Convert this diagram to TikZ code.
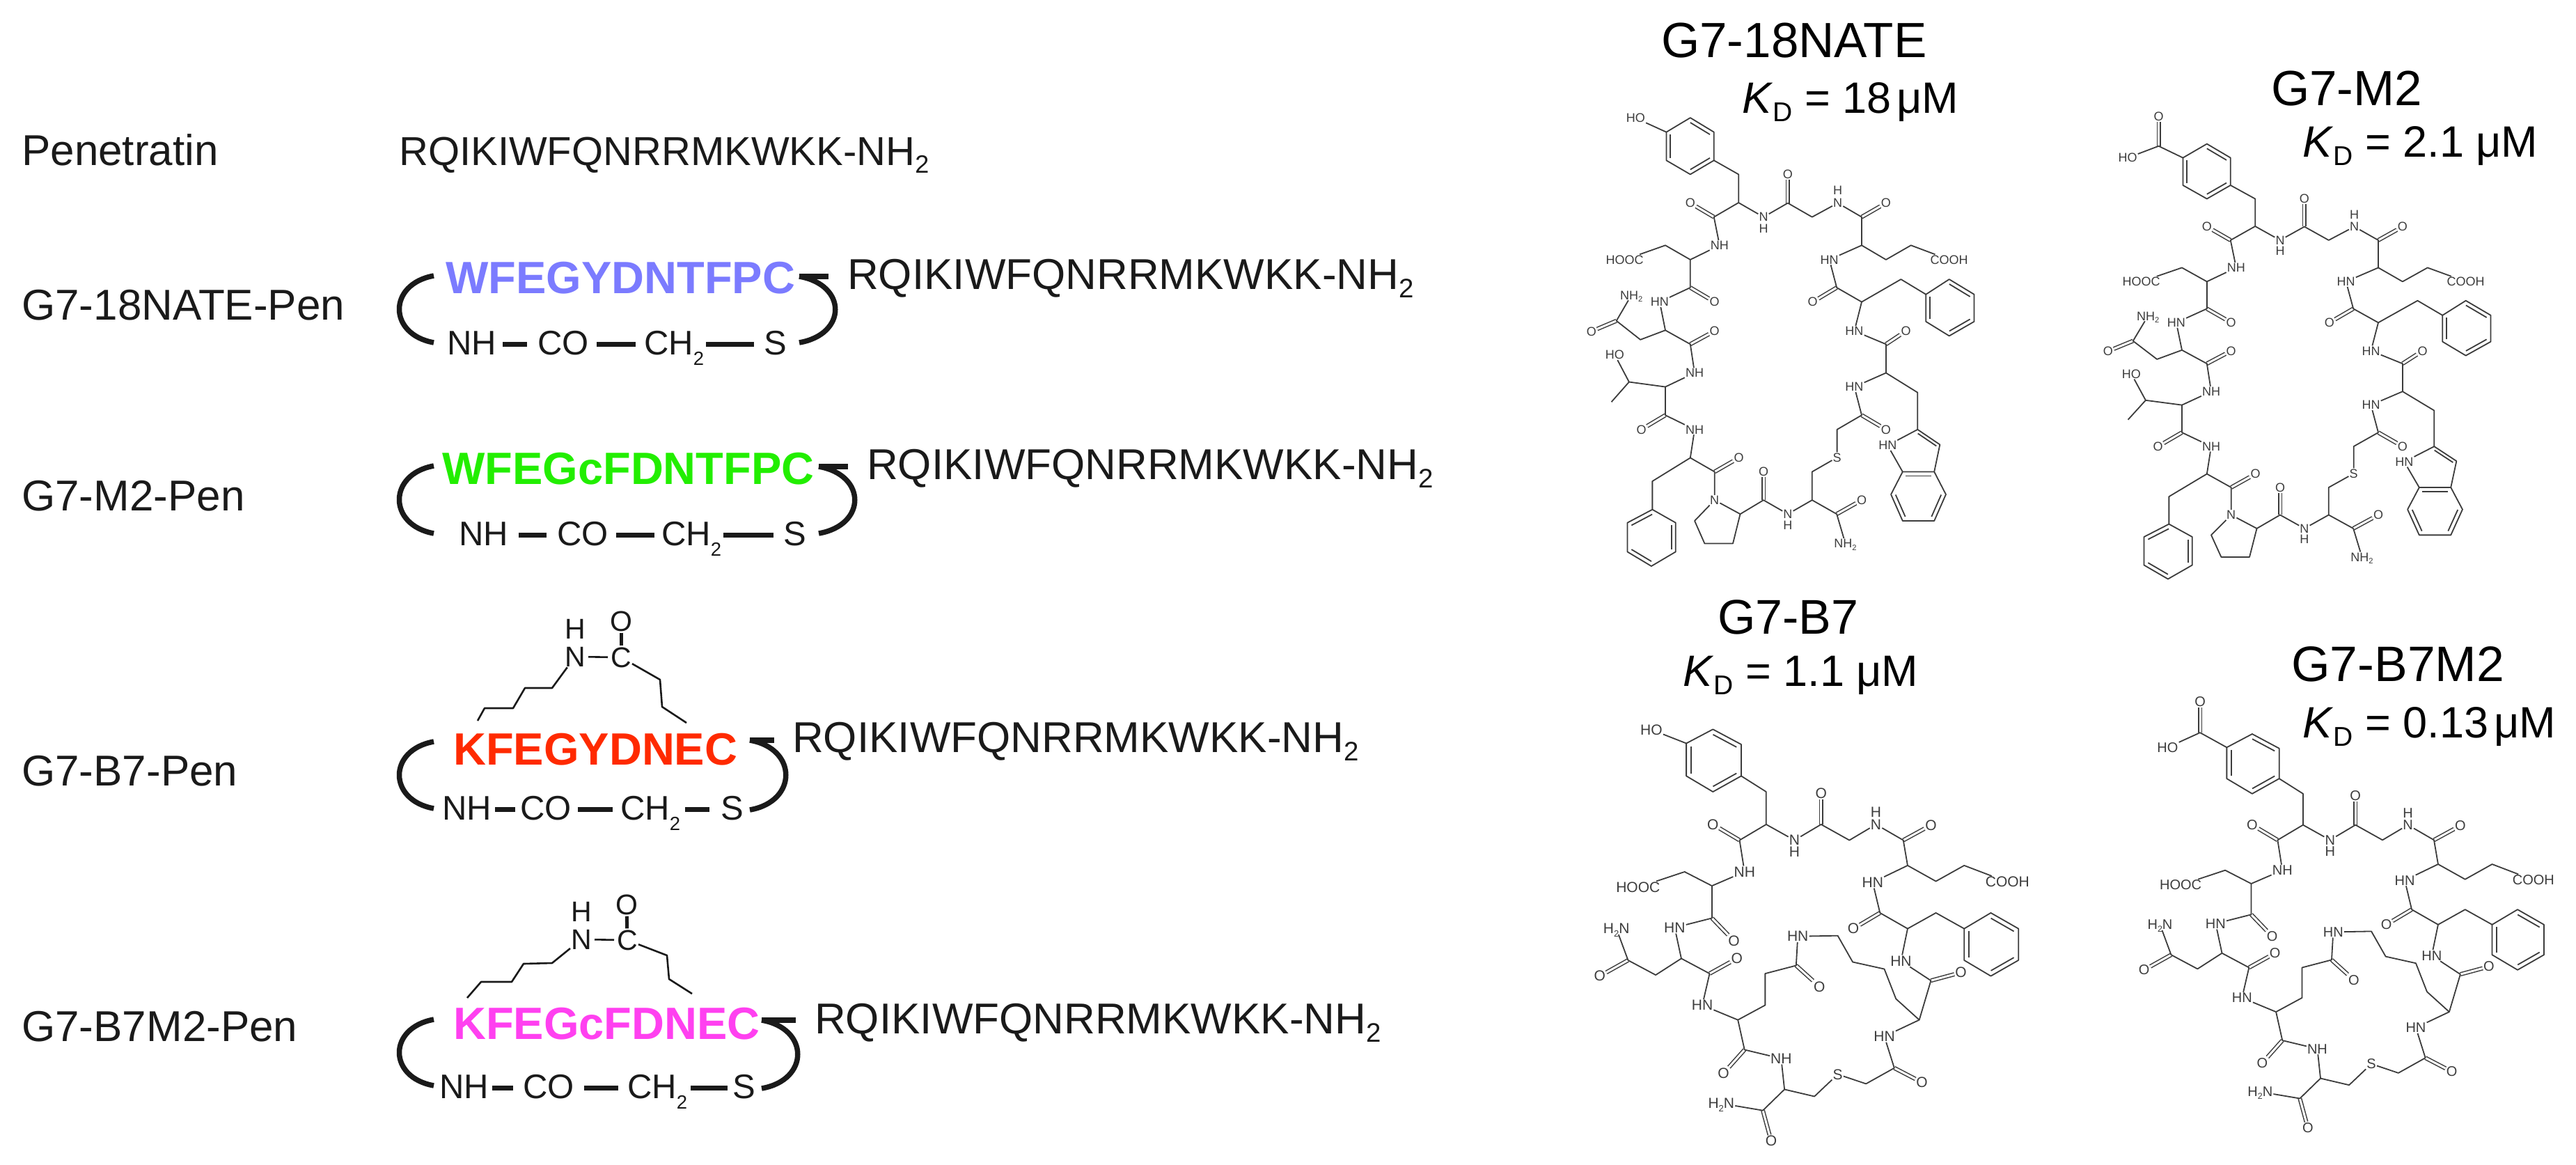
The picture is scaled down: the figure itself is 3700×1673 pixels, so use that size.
\documentclass[tikz,border=0pt]{standalone}
\usepackage{fontspec}
\setmainfont{Liberation Sans}
\usetikzlibrary{calc}
\definecolor{ink}{HTML}{1A1A1A}
\definecolor{bondgray}{HTML}{3C3C3C}
\definecolor{seqblue}{HTML}{7B7BFF}
\definecolor{seqgreen}{HTML}{22EE00}
\definecolor{seqred}{HTML}{FF2A00}
\definecolor{seqpink}{HTML}{FF40F0}
\newcommand\fs[1]{\fontsize{#1}{#1}\selectfont}
\newcommand\lowsub[1]{\raisebox{-.2em}[0pt][0pt]{\scalebox{.62}{#1}}}
\newcommand\chsub[1]{\raisebox{-.31em}[0pt][0pt]{\scalebox{.56}{#1}}}
\def\atomfs{18}
\tikzset{
  x=1pt,y=-1pt,
  lab/.style={anchor=base west,inner sep=0pt,text=ink,font=\fs{62}},
  seqtxt/.style={anchor=base west,inner sep=0pt,text=ink,font=\fs{62}},
  boldseq/.style={anchor=base west,inner sep=0pt,font=\fs{65}\bfseries},
  linkatom/.style={anchor=base west,inner sep=0pt,text=ink,font=\fs{49},text height=35pt,text depth=6pt},
  link/.style={line width=7pt,draw=ink},
  brack/.style={line width=7.5pt,draw=ink},
  topbar/.style={line width=8pt,draw=ink},
  chainl/.style={line width=2.6pt,draw=ink,line join=round},
  chainatom/.style={inner sep=1pt,text=ink,font=\fs{41}},
  title/.style={anchor=base west,inner sep=0pt,text=black,font=\fs{71}},
  kd/.style={anchor=base west,inner sep=0pt,text=black,font=\fs{63}},
  bond/.style={line width=1.8pt,draw=bondgray,line join=round},
  dbond/.style={draw=bondgray,line width=1.5pt,double=white,double distance=3pt},
  atom/.style={inner sep=1pt,text=bondgray,font=\fs{\atomfs}},
}
\newcommand\inring[3]{\draw[bond] ($(#1)!.17!(#3)$) -- ($(#2)!.17!(#3)$);}
\newcommand\dbl[2]{\draw[dbond] (#1) -- (#2);}

\newcommand\molA{%
  \foreach \n/\px/\py in {a1/300/350,a2/372/312,a3/443/350,a4/443/425,a5/372/462,a6/300/425,ac/372/387,
    t1/517/462,ca1/517/537,c1/443/575,ca2/372/688,e1/297/650,c2/372/762,ca3/297/875,e2/222/900,c3/150/850,
    c4/372/912,ca4/297/1025,e3/188/1012,e4/135/1065,c5/297/1100,ca5/372/1213,e5/258/1275,
    b1/258/1350,b2/328/1385,b3/328/1462,b4/255/1500,b5/183/1462,b6/183/1385,bc/255/1425,
    c6/445/1250,p1/385/1380,p2/415/1440,p3/500/1440,ca6/522/1362,c7/592/1325,ca7/738/1325,ct/812/1362,
    e6/738/1250,e7/813/1138,c8/887/1100,ca8/960/988,e8/1055/1040,i2/1055/1138,i3/1122/1178,i3a/1105/1250,
    i7a/1010/1250,i4/1140/1310,i5/1105/1380,i6/1010/1380,i7/975/1310,ic/1057/1315,fc/1060/1200,
    c9/960/912,ca9/887/800,c10/812/762,e9/1005/740,
    d1/1080/780,d2/1150/740,d3/1225/780,d4/1225/852,d5/1150/890,d6/1080/852,dc/1152/815,
    ca10/887/650,e10/960/688,e11/1035/650,c11/887/575,e12/738/575,c12/665/538}
    {\coordinate (\n) at (\px,\py);}
  \foreach \n/\px/\py/\lbl in {oa/372/538/O,na/460/650/NH,hooc/175/688/HOOC,ob/445/800/O,nb/280/800/HN,oc/75/878/O,
    nh2/195/782/NH\lowsub{2},od/445/877/O,nd/385/988/NH,hoa/145/940/HO,oe/225/1138/O,ne/385/1138/NH,of/518/1213/O,
    np/445/1325/N,og/592/1250/O,nf/665/1362/N,hf/665/1392/H,oh/887/1325/O,nt/838/1440/NH\lowsub{2},sa/813/1212/S,
    oi/960/1138/O,ni/865/1025/HN,nin/965/1180/HN,oj/1020/877/O,nj/865/877/HN,ok/740/800/O,nk/790/688/HN,
    cooh/1150/688/COOH,ol/960/538/O,nl/815/538/N,hl/815/505/H,om/665/462/O,nm/592/575/N,hm/592/605/H}
    {\node[atom] (\n) at (\px,\py) {\lbl};}
  \foreach \pa/\pb in {c1/oa,c2/ob,c3/oc,c4/od,c5/oe,c6/of,c7/og,ct/oh,c8/oi,c9/oj,c10/ok,c11/ol,c12/om}
    {\dbl{\pa}{\pb}}
  \draw[bond] (a1)--(a2)--(a3)--(a4)--(a5)--(a6)--cycle;
  \inring{a2}{a3}{ac}\inring{a4}{a5}{ac}\inring{a6}{a1}{ac}
  \draw[bond] (a4)--(t1)--(ca1)--(c1)--(na)--(ca2)--(e1)--(hooc);
  \draw[bond] (ca2)--(c2)--(nb)--(ca3)--(e2)--(c3)--(nh2);
  \draw[bond] (ca3)--(c4)--(nd)--(ca4)--(c5)--(ne)--(ca5)--(e5)--(b1);
  \draw[bond] (ca4)--(e3)--(hoa);
  \draw[bond] (e3)--(e4);
  \draw[bond] (b1)--(b2)--(b3)--(b4)--(b5)--(b6)--cycle;
  \inring{b6}{b1}{bc}\inring{b2}{b3}{bc}\inring{b4}{b5}{bc}
  \draw[bond] (ca5)--(c6)--(np)--(p1)--(p2)--(p3)--(ca6)--(np);
  \draw[bond] (ca6)--(c7)--(nf)--(ca7)--(ct)--(nt);
  \draw[bond] (ca7)--(e6)--(sa)--(e7)--(c8)--(ni)--(ca8)--(e8)--(i2);
  \draw[bond] (i2)--(i3)--(i3a)--(i7a)--(nin)--(i2);
  \draw[bond] (i3a)--(i4)--(i5)--(i6)--(i7)--(i7a);
  \inring{i2}{i3}{fc}\inring{i3a}{i7a}{ic}\inring{i4}{i5}{ic}\inring{i6}{i7}{ic}
  \draw[bond] (ca8)--(c9)--(nj)--(ca9)--(c10)--(nk)--(ca10)--(c11)--(nl)--(e12)--(c12)--(nm)--(ca1);
  \draw[bond] (ca9)--(e9)--(d1);
  \draw[bond] (d1)--(d2)--(d3)--(d4)--(d5)--(d6)--cycle;
  \inring{d2}{d3}{dc}\inring{d4}{d5}{dc}\inring{d6}{d1}{dc}
  \draw[bond] (ca10)--(e10)--(e11)--(cooh);
}
\newcommand\molB{%
  \foreach \n/\px/\py in {a1/360/372,a2/440/332,a3/525/375,a4/525/465,a5/440/510,a6/360/465,ac/442/420,
    t1/600/510,ca1/600/603,c1/520/648,ca2/437/778,e1/355/738,c2/437/870,ca3/345/985,e2/268/1032,c3/185/990,
    c4/430/1028,ca4/515/1160,e3/597/1118,e4/597/1028,c5/690/1005,e5/815/920,e6/860/995,e7/955/1015,e8/990/1100,
    ca5/1060/1160,c6/1095/1048,ca6/1025/900,e9/1110/855,
    d1/1195/900,d2/1275/855,d3/1358/900,d4/1358/990,d5/1275/1035,d6/1195/990,dc/1277/945,
    c7/942/855,ca7/1025/720,e10/1110/765,e11/1195/720,c8/1012/648,e12/850/648,c9/765/603,
    c10/985/1297,e13/900/1342,e14/745/1378,ca8/655/1358,c11/535/1245,c12/590/1418}
    {\coordinate (\n) at (\px,\py);}
  \foreach \n/\px/\py/\lbl in {oa/440/603/O,na/535/738/NH,hooc/215/782/HOOC,ob/503/935/O,nb/325/897/HN,oc/100/1035/O,
    nh2/150/900/H\lowsub{2}N,od/512/985/O,nd/408/1118/HN,oe/760/1065/O,ne/695/922/HN,of/1185/1025/O,nf/1005/992/HN,
    og/862/900/O,ng/920/768/HN,cooh/1325/767/COOH,oh/1095/605/O,nh/930/603/N,hh/930/568/H,oi/765/515/O,ni/685/648/N,
    hi/685/682/H,nj/955/1207/HN,oj/1068/1338/O,sa/815/1315/S,nk/645/1270/NH,ok/472/1312/O,ol/615/1505/O,nt/465/1398/H\lowsub{2}N}
    {\node[atom] (\n) at (\px,\py) {\lbl};}
  \foreach \pa/\pb in {c1/oa,c2/ob,c3/oc,c4/od,c5/oe,c6/of,c7/og,c8/oh,c9/oi,c10/oj,c11/ok,c12/ol}
    {\dbl{\pa}{\pb}}
  \draw[bond] (a1)--(a2)--(a3)--(a4)--(a5)--(a6)--cycle;
  \inring{a2}{a3}{ac}\inring{a4}{a5}{ac}\inring{a6}{a1}{ac}
  \draw[bond] (a4)--(t1)--(ca1)--(c1)--(na)--(ca2)--(e1)--(hooc);
  \draw[bond] (ca2)--(c2)--(nb)--(ca3)--(e2)--(c3)--(nh2);
  \draw[bond] (ca3)--(c4)--(nd)--(ca4)--(e3)--(e4)--(c5)--(ne)--(e5)--(e6)--(e7)--(e8)--(ca5)--(c6)--(nf)--(ca6)--(e9)--(d1);
  \draw[bond] (d1)--(d2)--(d3)--(d4)--(d5)--(d6)--cycle;
  \inring{d2}{d3}{dc}\inring{d4}{d5}{dc}\inring{d6}{d1}{dc}
  \draw[bond] (ca6)--(c7)--(ng)--(ca7)--(e10)--(e11)--(cooh);
  \draw[bond] (ca7)--(c8)--(nh)--(e12)--(c9)--(ni)--(ca1);
  \draw[bond] (ca5)--(nj)--(c10)--(e13)--(sa)--(e14)--(ca8)--(nk)--(c11)--(ca4);
  \draw[bond] (ca8)--(c12)--(nt);
}
\newcommand\kdval[1]{\textit{K}\lowsub{D} = #1}
\newcommand\seqstr{RQIKIWFQNRRMKWKK-NH\lowsub{2}}

\begin{document}
\begin{tikzpicture}
\useasboundingbox (0,0) rectangle (3700,1673);
% labels
\node[lab] (lab0) at (31,237) {Penetratin};
\node[lab] (lab1) at (31,459) {G7-18NATE-Pen};
\node[lab] (lab2) at (31,733) {G7-M2-Pen};
\node[lab] (lab3) at (31,1128) {G7-B7-Pen};
\node[lab] (lab4) at (31,1495) {G7-B7M2-Pen};
\node[seqtxt,font=\fs{58}] (seq0) at (573,237) {\seqstr};
\node[seqtxt] (seq1) at (1217,415) {\seqstr};
\node[seqtxt] (seq2) at (1245,688) {\seqstr};
\node[seqtxt] (seq3) at (1138,1080) {\seqstr};
\node[seqtxt] (seq4) at (1170,1484) {\seqstr};
\node[boldseq,text=seqblue] (b1) at (640,421) {WFEGYDNTFPC};
\node[boldseq,text=seqgreen] (b2) at (635,695) {WFEGcFDNTFPC};
\node[boldseq,text=seqred] (b3) at (651,1098) {KFEGYDNEC};
\node[boldseq,text=seqpink] (b4) at (651,1492) {KFEGcFDNEC};
% row 1 linker
\node[linkatom] (r1nh) at (642,509) {NH};
\node[linkatom] (r1co) at (772,509) {CO};
\node[linkatom] (r1ch) at (925,509) {CH\chsub{2}};
\node[linkatom] (r1s) at (1097,509) {S};
\draw[link,shorten <=9pt,shorten >=15pt] (r1nh.east)--(r1co.west);
\draw[link,shorten <=11pt,shorten >=12pt] (r1co.east)--(r1ch.west);
\draw[link,shorten <=3pt,shorten >=14pt] (r1ch.east)--(r1s.west);
% row 2 linker
\node[linkatom] (r2nh) at (659,783) {NH};
\node[linkatom] (r2co) at (800,783) {CO};
\node[linkatom] (r2ch) at (950,783) {CH\chsub{2}};
\node[linkatom] (r2s) at (1125,783) {S};
\draw[link,shorten <=15pt,shorten >=15pt] (r2nh.east)--(r2co.west);
\draw[link,shorten <=11pt,shorten >=10pt] (r2co.east)--(r2ch.west);
\draw[link,shorten <=3pt,shorten >=14pt] (r2ch.east)--(r2s.west);
% row 3 linker
\node[linkatom] (r3nh) at (635,1177) {NH};
\node[linkatom] (r3co) at (747,1177) {CO};
\node[linkatom] (r3ch) at (891,1177) {CH\chsub{2}};
\node[linkatom] (r3s) at (1035,1177) {S};
\draw[link,shorten <=5pt,shorten >=7pt] (r3nh.east)--(r3co.west);
\draw[link,shorten <=9pt,shorten >=11pt] (r3co.east)--(r3ch.west);
\draw[link,shorten <=7pt,shorten >=16pt] (r3ch.east)--(r3s.west);
% row 4 linker
\node[linkatom] (r4nh) at (631,1577) {NH};
\node[linkatom] (r4co) at (751,1577) {CO};
\node[linkatom] (r4ch) at (901,1577) {CH\chsub{2}};
\node[linkatom] (r4s) at (1052,1577) {S};
\draw[link,shorten <=5pt,shorten >=14pt] (r4nh.east)--(r4co.west);
\draw[link,shorten <=14pt,shorten >=13pt] (r4co.east)--(r4ch.west);
\draw[link,shorten <=5pt,shorten >=7pt] (r4ch.east)--(r4s.west);
% brackets
\foreach \r/\lt/\lb/\rtx/\rty/\rbx/\rby/\bx in {1/396/492/1148/397/1148/492/1190,2/669/766/1176/670/1176/766/1218,3/1065/1161/1077/1063/1077/1163/1112,4/1464/1559/1094/1465/1094/1563/1143}{
  \coordinate (lt\r) at (623,\lt);
  \coordinate (lb\r) at (623,\lb);
  \coordinate (rt\r) at (\rtx,\rty);
  \coordinate (rb\r) at (\rbx,\rby);
  \coordinate (bar\r) at (\bx,\rty);
  \draw[brack] (lt\r) .. controls ($(lt\r)+(-66,12)$) and ($(lb\r)+(-66,-12)$) .. (lb\r);
  \draw[brack] (rt\r) .. controls ($(rt\r)+(69,12)$) and ($(rb\r)+(69,-12)$) .. (rb\r);
  \draw[topbar] (rt\r) -- (bar\r);
}
% lactam side chains
\node[chainatom] (r3h) at (826,903) {H};
\node[chainatom] (r3n) at (826,943) {N};
\node[chainatom] (r3c) at (892,944) {C};
\node[chainatom] (r3o) at (892,892) {O};
\draw[chainl,shorten <=3pt,shorten >=3pt] (r3n)--(r3c);
\draw[line width=5pt,draw=ink,shorten <=1pt,shorten >=1pt] (r3o)--(r3c);
\coordinate (r3a) at (793,988);\coordinate (r3b) at (754,988);\coordinate (r3d) at (737,1017);\coordinate (r3e) at (696,1017);\coordinate (r3f) at (686,1035);
\coordinate (r3g) at (948,976);\coordinate (r3i) at (951,1015);\coordinate (r3j) at (986,1038);
\draw[chainl] (r3n)--(r3a)--(r3b)--(r3d)--(r3e)--(r3f);
\draw[chainl] (r3c)--(r3g)--(r3i)--(r3j);
\node[chainatom] (r4h) at (835,1309) {H};
\node[chainatom] (r4n) at (835,1349) {N};
\node[chainatom] (r4c) at (901,1350) {C};
\node[chainatom] (r4o) at (900,1299) {O};
\draw[chainl,shorten <=3pt,shorten >=3pt] (r4n)--(r4c);
\draw[line width=5pt,draw=ink,shorten <=1pt,shorten >=1pt] (r4o)--(r4c);
\coordinate (r4a) at (793,1383);\coordinate (r4b) at (752,1384);\coordinate (r4d) at (735,1410);\coordinate (r4e) at (691,1410);\coordinate (r4f) at (671,1433);
\coordinate (r4g) at (958,1372);\coordinate (r4i) at (961,1406);\coordinate (r4j) at (994,1427);
\draw[chainl] (r4n)--(r4a)--(r4b)--(r4d)--(r4e)--(r4f);
\draw[chainl] (r4c)--(r4g)--(r4i)--(r4j);
% titles
\node[title] (t1) at (2386,82) {G7-18NATE};
\node[kd] (k1) at (2502,162) {\kdval{18\kern8ptμM}};
\node[title] (t2) at (3262,151) {G7-M2};
\node[kd] (k2) at (3307,225) {\kdval{2.1 μM}};
\node[title,font=\fs{70}] (t3) at (2467,910) {G7-B7};
\node[kd] (k3) at (2417,985) {\kdval{1.1 μM}};
\node[title,font=\fs{71.5}] (t4) at (3291,978) {G7-B7M2};
\node[kd] (k4) at (3307,1059) {\kdval{0.13\kern8ptμM}};
% molecules
\begin{scope}[shift={(2250,0)},x=.478pt,y=-.542pt,name prefix=mA-]
  \molA
  \node[atom] (hoh) at (208,313) {HO};
  \draw[bond] (a1)--(hoh);
\end{scope}
\begin{scope}[shift={(2992,42.5)},x=.478pt,y=-.526pt,name prefix=mB-]
  \molA
  \coordinate (hc) at (227,318);
  \node[atom] (hoo) at (227,238) {O};
  \node[atom] (hoh) at (134,350) {HO};
  \dbl{hc}{hoo}
  \draw[bond] (a1)--(hc)--(hoh);
\end{scope}
\def\atomfs{21}
\begin{scope}[shift={(2250,880)},x=.478pt,y=-.504pt,name prefix=mC-]
  \molB
  \node[atom] (hoh) at (255,333) {HO};
  \draw[bond] (a1)--(hoh);
\end{scope}
\def\atomfs{20}
\begin{scope}[shift={(3034,894)},x=.4565pt,y=-.482pt,name prefix=mD-]
  \molB
  \coordinate (hc) at (276,328);
  \node[atom] (hoo) at (276,236) {O};
  \node[atom] (hoh) at (174,372) {HO};
  \dbl{hc}{hoo}
  \draw[bond] (a1)--(hc)--(hoh);
\end{scope}
\end{tikzpicture}
\end{document}
